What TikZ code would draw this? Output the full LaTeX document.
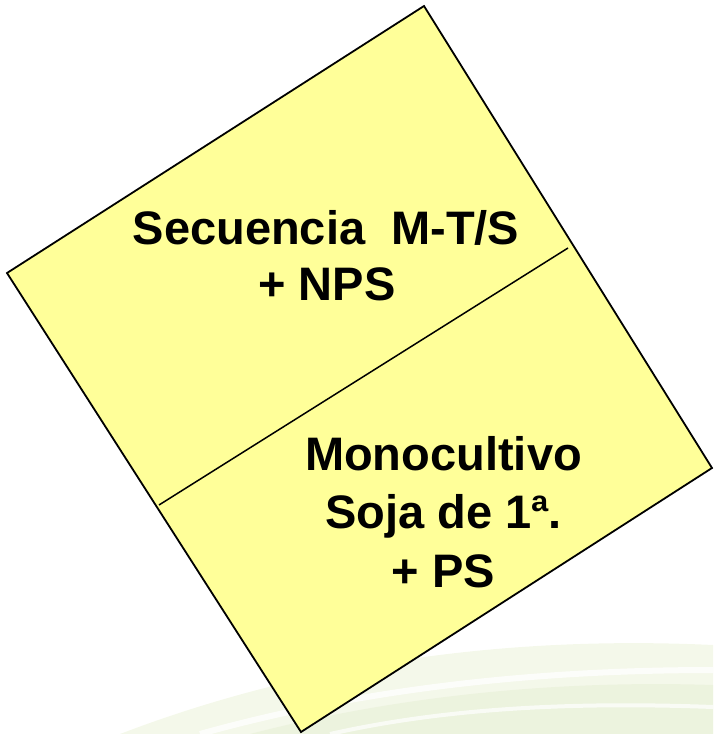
\documentclass[tikz,border=0pt]{standalone}
\usepackage{fontspec}
\setmainfont{Liberation Sans}
\definecolor{cardfill}{RGB}{255,255,153}
\definecolor{swirlA}{RGB}{244,248,234}
\definecolor{swirlB}{RGB}{234,241,218}
\tikzset{
  card/.style={draw=black, fill=cardfill, line width=1.8pt, line join=miter},
  divider/.style={draw=black, line width=1.5pt},
  lbl/.style={anchor=base, inner sep=0pt, font=\bfseries\fontsize{47}{57}\selectfont},
}
\begin{document}
\begin{tikzpicture}[x=1pt,y=-1pt]
\useasboundingbox (0,0) rectangle (713,734);
% faint background swirl
\fill[swirlA] (120,734) .. controls (300,665) and (500,635) .. (713,645) -- (713,734) -- cycle;
\fill[swirlB, opacity=0.7] (250,734) .. controls (400,695) and (560,680) .. (713,685) -- (713,734) -- cycle;
\draw[white, line width=6pt, opacity=0.8] (200,734) .. controls (350,692) and (520,670) .. (713,670);
\draw[white, line width=4pt, opacity=0.7] (330,734) .. controls (450,707) and (580,702) .. (713,707);
% card
\coordinate (T) at (424,6);
\coordinate (L) at (7,273);
\coordinate (B) at (301,732);
\coordinate (R) at (712,468);
\path[card] (T) -- (L) -- (B) -- (R) -- cycle;
\coordinate (d1) at (159,505);
\coordinate (d2) at (568,248);
\path[divider] (d1) -- (d2);
% texts
\node[lbl] (s1) at (326,244) {Secuencia\ \ M-T/S};
\node[lbl] (s2) at (327,300) {+ NPS};
\node[lbl] (m1) at (443.5,470) {Monocultivo};
\node[lbl] (m2) at (443.5,528) {Soja de 1ª.};
\node[lbl] (m3) at (443.5,587) {+ PS};
\end{tikzpicture}
\end{document}
